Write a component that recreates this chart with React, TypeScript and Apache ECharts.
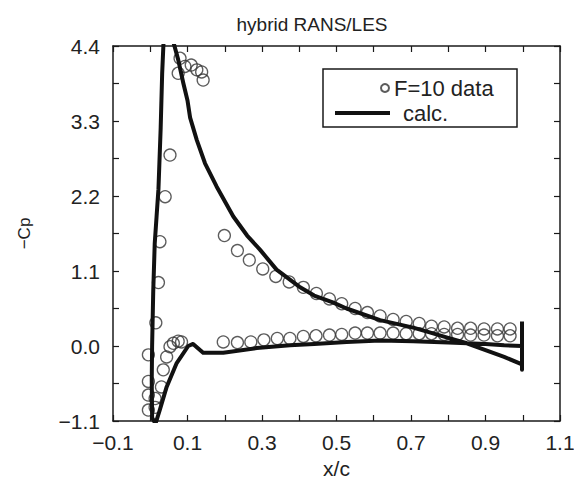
import React, { useEffect, useRef } from "react";
import * as echarts from "echarts";

// Measured F=10 data (x/c, -Cp)
const dataLeadingEdge: number[][] = [
  [0.08, 4.22], [0.075, 4.0], [0.093, 4.1], [0.11, 4.12], [0.125, 4.05], [0.138, 4.02], [0.142, 3.9],
  [0.053, 2.8], [0.04, 2.19], [0.026, 1.53], [0.022, 0.93], [0.015, 0.34], [-0.005, -0.13],
  [-0.005, -0.52], [-0.005, -0.72], [-0.005, -0.94], [0.013, -0.77], [0.013, -0.9],
  [0.03, -0.6], [0.035, -0.35], [0.044, -0.16], [0.053, -0.01], [0.062, 0.04], [0.075, 0.07], [0.084, 0.06],
];
const dataUpper: number[][] = [
  [0.199, 1.62], [0.234, 1.4], [0.266, 1.26], [0.302, 1.13], [0.337, 1.02], [0.373, 0.94], [0.411, 0.86],
  [0.446, 0.77], [0.481, 0.69], [0.514, 0.62], [0.55, 0.55], [0.583, 0.49], [0.617, 0.44], [0.652, 0.39],
  [0.687, 0.36], [0.722, 0.33], [0.755, 0.29], [0.789, 0.28], [0.825, 0.26], [0.86, 0.26], [0.896, 0.25],
  [0.932, 0.25], [0.966, 0.25],
];
const dataLower: number[][] = [
  [0.196, 0.06], [0.234, 0.05], [0.27, 0.06], [0.305, 0.09], [0.341, 0.11], [0.375, 0.11], [0.411, 0.14],
  [0.445, 0.15], [0.481, 0.16], [0.514, 0.17], [0.55, 0.19], [0.583, 0.19], [0.617, 0.19], [0.652, 0.19],
  [0.687, 0.18], [0.722, 0.18], [0.755, 0.18], [0.789, 0.17], [0.825, 0.17], [0.86, 0.16], [0.896, 0.16],
  [0.932, 0.15], [0.966, 0.15],
];

// Calculation (hybrid RANS/LES)
const calcLower: number[][] = [
  [0.998, 0.0], [0.95, 0.01], [0.9, 0.03], [0.8, 0.05], [0.706, 0.07], [0.617, 0.08], [0.527, 0.06],
  [0.44, 0.03], [0.375, 0.01], [0.286, -0.03], [0.196, -0.1], [0.142, -0.1], [0.115, 0.03], [0.102, 0.0],
  [0.071, -0.25], [0.044, -0.6], [0.025, -0.95], [0.014, -1.14],
];
const calcUpper: number[][] = [
  [0.005, -1.05], [0.004, -0.5], [0.005, 0.0], [0.008, 0.8], [0.012, 1.5], [0.017, 1.9], [0.022, 2.3],
  [0.028, 3.2], [0.032, 4.0], [0.036, 4.5], [0.06, 4.5], [0.075, 4.2], [0.089, 3.85], [0.1, 3.6],
  [0.107, 3.35], [0.125, 3.02], [0.147, 2.68], [0.178, 2.34], [0.223, 1.9], [0.26, 1.62], [0.295, 1.41],
  [0.339, 1.12], [0.4, 0.87], [0.44, 0.74], [0.49, 0.64], [0.527, 0.55], [0.617, 0.38], [0.706, 0.27],
  [0.75, 0.2], [0.8, 0.12], [0.85, 0.04], [0.9, -0.06], [0.95, -0.16], [0.998, -0.27],
];
const calcTrailingEdge: number[][] = [[0.998, -0.35], [0.998, 0.36]];

const xLabelsShown = ["-0.1", "0.1", "0.3", "0.5", "0.7", "0.9", "1.1"];
const yLabelsShown = ["-1.1", "0.0", "1.1", "2.2", "3.3", "4.4"];

const FONT = "Liberation Sans";
const INK = "#1a1a1a";
const TEXT = "#222";

export default function App() {
  const ref = useRef<HTMLDivElement>(null);
  useEffect(() => {
    if (!ref.current) return;
    const chart = echarts.init(ref.current, undefined, { renderer: "svg" });
    const fmt = (shown: string[]) => (v: number) => {
      const s = v.toFixed(1);
      const key = s === "-0.0" ? "0.0" : s;
      return shown.includes(key) ? key.replace("-", "\u2212") : "";
    };
    const axisCommon = {
      axisLine: { show: true, onZero: false, lineStyle: { color: INK, width: 1.5 } },
      axisTick: { show: true, inside: true, length: 6, lineStyle: { color: INK, width: 1.2 } },
      splitLine: { show: false },
    };
    chart.setOption({
      animation: false,
      backgroundColor: "#ffffff",
      title: {
        text: "hybrid RANS/LES",
        left: 307,
        top: 10,
        textAlign: "center",
        textStyle: { fontFamily: FONT, fontSize: 19, fontWeight: "normal", color: TEXT },
      },
      grid: { left: 113, top: 46, right: 14, bottom: 61, containLabel: false, outerBoundsMode: "none" },
      legend: [
        {
          data: ["F=10 data"],
          left: 380,
          top: 77,
          padding: 0,
          orient: "vertical",
          itemWidth: 8,
          itemHeight: 10,
          selectedMode: false,
          textStyle: { fontFamily: FONT, fontSize: 22, color: TEXT },
        },
        {
          data: [{ name: "calc.", icon: "rect" }],
          left: 335,
          top: 102,
          padding: 0,
          orient: "vertical",
          itemWidth: 55,
          itemHeight: 4,
          selectedMode: false,
          textStyle: { fontFamily: FONT, fontSize: 22, color: TEXT, padding: [0, 0, 0, 8] },
        },
      ],
      graphic: [
        {
          type: "rect",
          shape: { x: 323, y: 69, width: 194, height: 58 },
          style: { fill: "transparent", stroke: INK, lineWidth: 1.5 },
          z: 10,
        },
      ],
      xAxis: [
        {
          type: "value",
          min: -0.1,
          max: 1.1,
          interval: 0.1,
          name: "x/c",
          nameLocation: "middle",
          nameGap: 31,
          nameTextStyle: { fontFamily: FONT, fontSize: 21, color: TEXT },
          axisLabel: { formatter: fmt(xLabelsShown), margin: 11, fontFamily: FONT, fontSize: 21, color: TEXT, showMinLabel: true, showMaxLabel: true },
          ...axisCommon,
        },
        {
          type: "value",
          position: "top",
          min: -0.1,
          max: 1.1,
          interval: 0.1,
          axisLabel: { show: false },
          ...axisCommon,
        },
      ],
      yAxis: [
        {
          type: "value",
          min: -1.1,
          max: 4.4,
          interval: 0.55,
          name: "\u2212Cp",
          nameLocation: "middle",
          nameGap: 80,
          nameTextStyle: { fontFamily: FONT, fontSize: 17, color: TEXT },
          axisLabel: { formatter: fmt(yLabelsShown), margin: 13, fontFamily: FONT, fontSize: 21, color: TEXT, showMinLabel: true, showMaxLabel: true },
          ...axisCommon,
        },
        {
          type: "value",
          position: "right",
          min: -1.1,
          max: 4.4,
          interval: 0.55,
          axisLabel: { show: false },
          ...axisCommon,
        },
      ],
      series: [
        {
          name: "F=10 data",
          type: "scatter",
          data: [...dataLeadingEdge, ...dataUpper, ...dataLower],
          symbol: "circle",
          symbolSize: 12,
          itemStyle: { color: "rgba(255,255,255,0)", borderColor: "#333", borderWidth: 1.3 },
          z: 2,
        },
        {
          name: "calc.",
          type: "line",
          data: [...calcLower, ...calcUpper, ...calcTrailingEdge],
          showSymbol: false,
          symbol: "none",
          lineStyle: { color: "#111", width: 4, join: "round" },
          itemStyle: { color: "#111" },
          clip: true,
          z: 3,
        },
      ],
    });
    return () => chart.dispose();
  }, []);
  return (
    <div
      ref={ref}
      style={{ position: "absolute", left: 0, top: 0, width: 574, height: 482 }}
    />
  );
}
